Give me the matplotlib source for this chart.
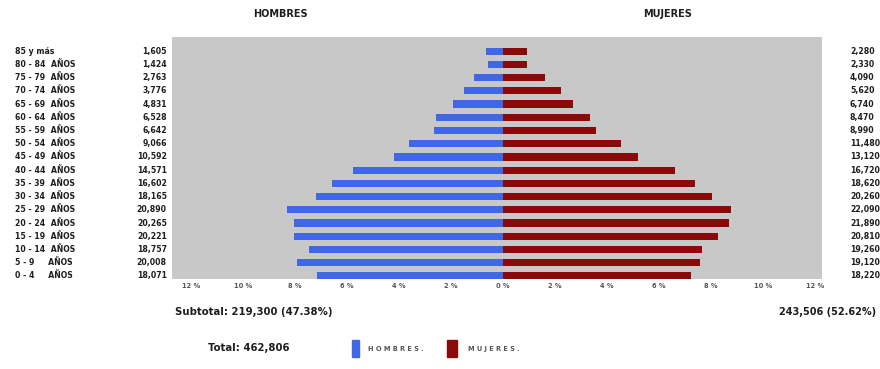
import numpy as np
import matplotlib.pyplot as plt

# ===== datos =====
grupos = ['85 y más', '80 - 84  AÑOS', '75 - 79  AÑOS', '70 - 74  AÑOS', '65 - 69  AÑOS',
          '60 - 64  AÑOS', '55 - 59  AÑOS', '50 - 54  AÑOS', '45 - 49  AÑOS', '40 - 44  AÑOS',
          '35 - 39  AÑOS', '30 - 34  AÑOS', '25 - 29  AÑOS', '20 - 24  AÑOS', '15 - 19  AÑOS',
          '10 - 14  AÑOS', '5 - 9     AÑOS', '0 - 4     AÑOS']
hombres = [1605, 1424, 2763, 3776, 4831, 6528, 6642, 9066, 10592, 14571,
           16602, 18165, 20890, 20265, 20221, 18757, 20008, 18071]
mujeres = [2280, 2330, 4090, 5620, 6740, 8470, 8990, 11480, 13120, 16720,
           18620, 20260, 22090, 21890, 20810, 19260, 19120, 18220]
tick_pct = [12, 10, 8, 6, 4, 2, 0, 2, 4, 6, 8, 10, 12]
total = 462806
sub_h = 219300
sub_m = 243506

azul = '#3f67e6'
rojo = '#8a0a0a'
gris = '#c8c8c8'
txt = '#1e1e1e'

# personas por cada "1 %" del eje
unidad = 2520

fig = plt.figure(figsize=(8.8, 3.69), dpi=100)
ax = fig.add_axes([172/880, 1 - 279/369, 650/880, 242/369])
ax.set_facecolor(gris)
for sp in ax.spines.values():
    sp.set_visible(False)

n = len(grupos)
y = np.arange(n)[::-1]  # 85 y más arriba
ax.barh(y, -np.array(hombres), height=0.55, color=azul, edgecolor='none')
ax.barh(y, np.array(mujeres), height=0.55, color=rojo, edgecolor='none')

ax.set_xlim(-12.73 * unidad, 12.27 * unidad)
ax.set_ylim(-0.23, 18.07)
ax.set_yticks([])
pos = [(-p if i < 6 else p) * unidad for i, p in enumerate(tick_pct)]
ax.set_xticks(pos)
ax.set_xticklabels([f'{p} %' for p in tick_pct], fontsize=4.8, color='#555555',
                   fontweight='bold')
ax.tick_params(axis='x', length=0, pad=3)

# etiquetas de grupos y valores
tr = ax.get_yaxis_transform()
for yi, g, h, m in zip(y, grupos, hombres, mujeres):
    ax.text(-0.242, yi, g, transform=tr, ha='left', va='center', fontsize=5.6,
            fontweight='bold', color=txt)
    ax.text(-0.008, yi, f'{h:,}', transform=tr, ha='right', va='center', fontsize=5.6,
            fontweight='bold', color=txt)
    ax.text(1.043, yi, f'{m:,}', transform=tr, ha='left', va='center', fontsize=5.6,
            fontweight='bold', color=txt)

fig.text(280/880, 1 - 14/369, 'HOMBRES', ha='center', va='center', fontsize=7,
         fontweight='bold', color=txt)
fig.text(668/880, 1 - 14/369, 'MUJERES', ha='center', va='center', fontsize=7,
         fontweight='bold', color=txt)

fig.text(175/880, 1 - 312/369, f'Subtotal: {sub_h:,} ({sub_h / total * 100:.2f}%)',
         ha='left', va='center', fontsize=7.3, fontweight='bold', color=txt)
fig.text(876/880, 1 - 312/369, f'{sub_m:,} ({sub_m / total * 100:.2f}%)',
         ha='right', va='center', fontsize=7, fontweight='bold', color=txt)
fig.text(208/880, 1 - 348/369, f'Total: {total:,}', ha='left', va='center',
         fontsize=7.3, fontweight='bold', color=txt)

# leyenda
fig.patches.append(plt.Rectangle((352/880, 1 - 357/369), 7/880, 17/369,
                                 transform=fig.transFigure, color=azul))
fig.text(368/880, 1 - 349/369, 'H O M B R E S .', ha='left', va='center',
         fontsize=4.8, fontweight='bold', color='#555555')
fig.patches.append(plt.Rectangle((447/880, 1 - 357/369), 10/880, 17/369,
                                 transform=fig.transFigure, color=rojo))
fig.text(468/880, 1 - 349/369, 'M U J E R E S .', ha='left', va='center',
         fontsize=4.8, fontweight='bold', color='#555555')

fig.savefig('out.png', dpi=100)
